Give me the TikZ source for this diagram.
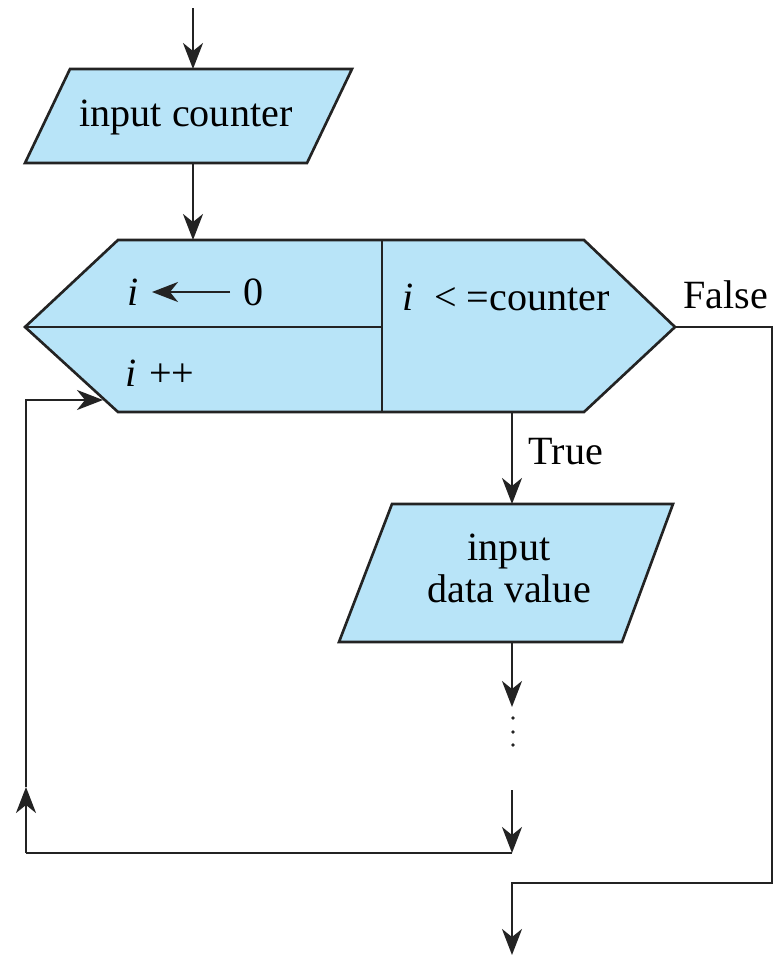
\documentclass[tikz,border=0pt]{standalone}
\usepackage{fontspec}
\setmainfont{Liberation Serif}
\usetikzlibrary{arrows.meta}
\definecolor{boxfill}{RGB}{184,228,248}
\definecolor{ink}{RGB}{35,35,35}

\begin{document}
\begin{tikzpicture}[x=0.01cm, y=-0.01cm,
  shapebox/.style={draw=ink, fill=boxfill, line width=0.75pt, line join=miter},
  rule/.style={draw=ink, line width=0.7pt},
  flow/.style={draw=ink, line width=0.7pt, -{Stealth[length=2.6mm, width=2.0mm, inset=0.8mm]}},
  lbl/.style={font=\fontsize{11.4}{11.95}\selectfont, text=black, inner sep=0pt},
]
\useasboundingbox (0,0) rectangle (776,963);

% ---- input counter (parallelogram) ----
\filldraw[shapebox] (70,69) -- (352,69) -- (307,163) -- (25,163) -- cycle;
\node[lbl, anchor=base] (incount) at (186,126) {input counter};
\coordinate (start)   at (193,8);
\coordinate (inTop)   at (193,69);
\coordinate (inBot)   at (193,163);

% ---- loop hexagon: init / update | test ----
\filldraw[shapebox] (118,240) -- (584,240) -- (675,327) -- (584,412)
                    -- (118,412) -- (25,327) -- cycle;
\draw[rule] (382,240) -- (382,412);
\draw[rule] (25,327) -- (382,327);
\coordinate (hexTop)  at (193,240);
\coordinate (hexBot)  at (512,412);
\coordinate (hexR)    at (675,327);
\coordinate (hexIn)   at (103,400);

\node[lbl, anchor=base west] (initI) at (127,305) {\textit{i}};
\node[lbl, anchor=base west] (initZero) at (243,305) {0};
\coordinate (asgnFrom) at (230,292);
\coordinate (asgnTo)   at (152,292);
\draw[flow] (asgnFrom) -- (asgnTo);

\node[lbl, anchor=base west] (test) at (402,310)
  {\textit{i}\hspace{6pt}<\hspace{2.6pt}=counter};
\node[lbl, anchor=base west] (incr) at (125,386) {\textit{i}\hspace{3.5pt}++};

% ---- input data value (parallelogram) ----
\filldraw[shapebox] (392,504) -- (673,504) -- (622,642) -- (339,642) -- cycle;
\node[lbl, align=center, anchor=center] (indata) at (509,568) {input\\data value};
\coordinate (dataTop) at (512,504);
\coordinate (dataBot) at (512,642);

% ---- elided body ----
\coordinate (dotsTop) at (512,707);
\coordinate (dotsBot) at (512,790);
\foreach \yy in {718,732,745} \fill[ink] (513,\yy) circle (1.8);
\coordinate (bodyEnd) at (512,853);
\coordinate (loopBL)  at (26,853);
\coordinate (loopUp)  at (26,787);
\coordinate (loopTL)  at (26,400);

% ---- exit path ----
\coordinate (exitTR)  at (772,327);
\coordinate (exitBR)  at (772,883);
\coordinate (exitBL)  at (512,883);
\coordinate (exitEnd) at (512,955);

% ---- connectors ----
\draw[flow] (start) -- (inTop);
\draw[flow] (inBot) -- (hexTop);
\draw[flow] (hexBot) -- (dataTop);
\node[lbl, anchor=base west] (true) at (528,464) {True};
\draw[flow] (dataBot) -- (dotsTop);
\draw[flow] (dotsBot) -- (bodyEnd);
\draw[rule] (bodyEnd) -- (loopBL);
\draw[flow] (loopBL) -- (loopUp);
\draw[flow] (loopUp) -- (loopTL) -- (hexIn);
\node[lbl, anchor=base west] (false) at (683,308) {False};
\draw[flow] (hexR) -- (exitTR) -- (exitBR) -- (exitBL) -- (exitEnd);
\end{tikzpicture}
\end{document}
